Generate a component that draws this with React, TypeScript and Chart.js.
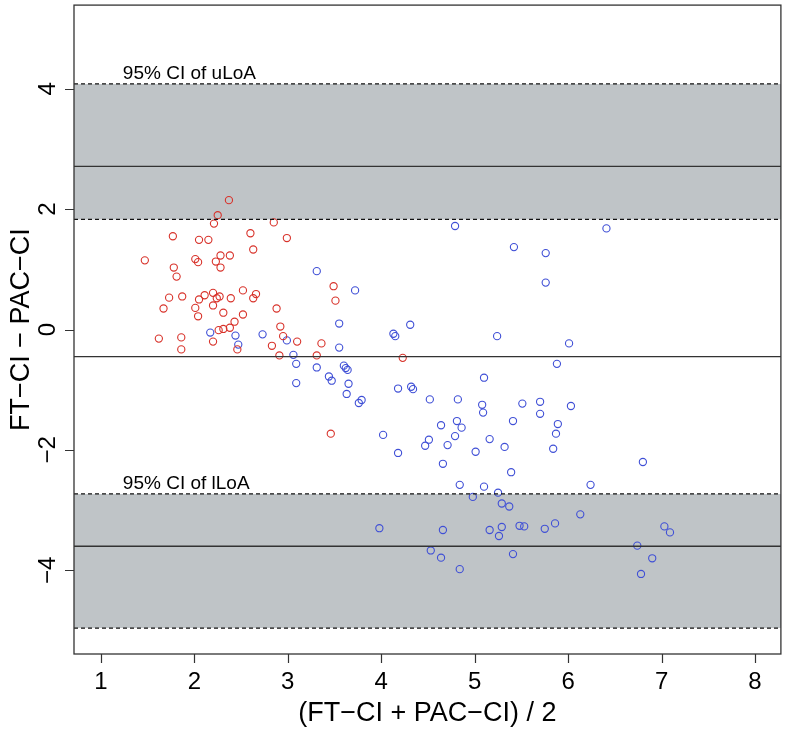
import React, { useEffect, useRef } from 'react';
import { Chart, registerables } from 'chart.js';

Chart.register(...registerables);

// ---- data ----
const redX = [2.37, 2.25, 2.21, 2.85, 1.77, 2.05, 2.15, 2.60, 2.99, 2.63, 1.47, 2.01, 2.04, 2.28, 2.38, 2.23, 2.28, 1.78, 1.81, 3.49, 3.51, 1.73, 1.87, 1.67, 2.05, 2.11, 2.20, 2.24, 2.27, 2.20, 2.01, 2.39, 2.52, 2.63, 2.66, 2.04, 2.31, 2.52, 2.43, 2.38, 2.31, 2.26, 2.88, 2.92, 2.95, 3.10, 3.36, 2.83, 2.91, 3.31, 1.62, 1.86, 2.20, 1.86, 2.46, 4.23, 3.46];
const redY = [2.15, 1.90, 1.76, 1.78, 1.55, 1.49, 1.49, 1.60, 1.52, 1.33, 1.15, 1.17, 1.12, 1.23, 1.23, 1.13, 1.03, 1.03, 0.88, 0.72, 0.48, 0.53, 0.55, 0.35, 0.50, 0.57, 0.61, 0.52, 0.55, 0.40, 0.36, 0.52, 0.65, 0.52, 0.59, 0.22, 0.28, 0.25, 0.13, 0.03, 0.01, -0.01, 0.35, 0.05, -0.11, -0.20, -0.23, -0.27, -0.43, -0.43, -0.15, -0.13, -0.20, -0.33, -0.33, -0.47, -1.73];

const blueX = [3.31, 3.72, 3.55, 2.17, 2.44, 2.47, 2.73, 2.99, 3.06, 3.09, 3.31, 3.55, 3.60, 3.62, 3.64, 3.44, 3.47, 3.09, 3.65, 3.63, 3.79, 3.76, 4.79, 6.41, 5.42, 5.76, 5.76, 4.31, 4.13, 4.15, 5.24, 6.01, 5.88, 5.10, 4.18, 4.32, 4.34, 4.52, 4.82, 5.08, 5.09, 5.51, 5.70, 5.70, 6.03, 5.89, 5.87, 5.84, 4.64, 4.81, 4.86, 5.16, 4.02, 4.51, 4.47, 4.71, 4.79, 5.41, 5.32, 5.01, 4.18, 6.80, 4.66, 5.39, 4.84, 5.10, 6.24, 5.25, 4.98, 5.29, 5.37, 6.13, 5.86, 3.98, 4.66, 5.16, 5.29, 5.26, 5.48, 5.53, 5.75, 7.03, 7.09, 6.74, 4.53, 4.64, 5.41, 6.90, 4.84, 6.78];
const blueY = [0.97, 0.65, 0.10, -0.05, -0.10, -0.25, -0.08, -0.18, -0.42, -0.57, -0.63, -0.30, -0.60, -0.64, -0.67, -0.78, -0.85, -0.89, -0.90, -1.07, -1.17, -1.22, 1.72, 1.68, 1.37, 1.27, 0.78, 0.08, -0.07, -0.11, -0.11, -0.23, -0.57, -0.80, -0.98, -0.95, -0.99, -1.16, -1.16, -1.25, -1.38, -1.23, -1.20, -1.40, -1.27, -1.57, -1.73, -1.98, -1.59, -1.52, -1.63, -1.82, -1.75, -1.83, -1.93, -1.92, -1.77, -1.52, -1.95, -2.03, -2.05, -2.20, -2.23, -2.37, -2.58, -2.61, -2.58, -2.71, -2.78, -2.89, -2.94, -3.07, -3.22, -3.30, -3.33, -3.33, -3.28, -3.43, -3.26, -3.27, -3.31, -3.27, -3.37, -3.59, -3.67, -3.79, -3.73, -3.80, -3.98, -4.06];

const uLoA = [1.83, 2.71, 4.08]; // lower CI, estimate, upper CI
const lLoA = [-4.96, -3.6, -2.73]; // lower CI, estimate, upper CI
const bias = -0.45;

const xTicks = [1, 2, 3, 4, 5, 6, 7, 8];
const xTickLabels = ['1', '2', '3', '4', '5', '6', '7', '8'];
const yTicks = [-4, -2, 0, 2, 4];
const yTickLabels = ['\u22124', '\u22122', '0', '2', '4'];
const xRange = [0.712, 8.277];
const yRange = [-5.39, 5.39];
const xTitle = '(FT\u2212CI + PAC\u2212CI) / 2';
const yTitle = 'FT\u2212CI \u2212 PAC\u2212CI';
const bandLabels = ['95% CI of uLoA', '95% CI of lLoA'];

// ---- styles ----
const FONT = '"Liberation Sans", Arial, Helvetica, sans-serif';
const RED = '#d8322a';
const BLUE = '#3f4fd6';
const BAND = '#bfc4c7';
const LABEL_X = 1.235;

const hLine = (y: number) => [
  { x: xRange[0], y },
  { x: xRange[1], y },
];

const decorPlugin = {
  id: 'decor',
  afterDraw(chart: any) {
    const { ctx, chartArea } = chart;
    const xs = chart.scales.x;
    const ys = chart.scales.y;
    const { left, right, top, bottom } = chartArea;
    ctx.save();
    // frame
    ctx.strokeStyle = '#333';
    ctx.lineWidth = 1.3;
    ctx.setLineDash([]);
    ctx.strokeRect(left, top, right - left, bottom - top);
    // ticks
    ctx.lineWidth = 1.2;
    ctx.beginPath();
    xTicks.forEach((v) => {
      const px = Math.round(xs.getPixelForValue(v)) + 0.5;
      ctx.moveTo(px, bottom);
      ctx.lineTo(px, bottom + 9);
    });
    yTicks.forEach((v) => {
      const py = Math.round(ys.getPixelForValue(v)) + 0.5;
      ctx.moveTo(left, py);
      ctx.lineTo(left - 9, py);
    });
    ctx.stroke();
    // tick labels
    ctx.fillStyle = '#000';
    ctx.font = `24px ${FONT}`;
    ctx.textAlign = 'center';
    ctx.textBaseline = 'alphabetic';
    xTicks.forEach((v, i) => {
      ctx.fillText(xTickLabels[i], xs.getPixelForValue(v), bottom + 35);
    });
    yTicks.forEach((v, i) => {
      ctx.save();
      ctx.translate(left - 19, ys.getPixelForValue(v));
      ctx.rotate(-Math.PI / 2);
      ctx.fillText(yTickLabels[i], 0, 0);
      ctx.restore();
    });
    // axis titles
    ctx.font = `27px ${FONT}`;
    ctx.fillText(xTitle, (left + right) / 2, bottom + 67);
    ctx.save();
    ctx.translate(29, (top + bottom) / 2);
    ctx.rotate(-Math.PI / 2);
    ctx.fillText(yTitle, 0, 0);
    ctx.restore();
    // band labels
    ctx.font = `19px ${FONT}`;
    ctx.textAlign = 'left';
    ctx.fillText(bandLabels[0], xs.getPixelForValue(LABEL_X), ys.getPixelForValue(uLoA[2]) - 5);
    ctx.fillText(bandLabels[1], xs.getPixelForValue(LABEL_X), ys.getPixelForValue(lLoA[2]) - 5);
    ctx.restore();
  },
};

export default function App() {
  const ref = useRef<HTMLCanvasElement | null>(null);
  useEffect(() => {
    document.body.style.margin = '0';
    if (!ref.current) return;
    const dashed = { borderColor: '#111', borderWidth: 1.3, borderDash: [4, 3], pointRadius: 0, showLine: true, type: 'line' as const };
    const solid = { borderColor: '#333', borderWidth: 1.4, pointRadius: 0, showLine: true, type: 'line' as const, fill: false };
    const chart = new Chart(ref.current, {
      type: 'scatter',
      data: {
        datasets: [
          { ...dashed, data: hLine(uLoA[2]), fill: { target: 1 }, backgroundColor: BAND },
          { ...dashed, data: hLine(uLoA[0]), fill: false },
          { ...dashed, data: hLine(lLoA[2]), fill: { target: 3 }, backgroundColor: BAND },
          { ...dashed, data: hLine(lLoA[0]), fill: false },
          { ...solid, data: hLine(uLoA[1]) },
          { ...solid, data: hLine(bias) },
          { ...solid, data: hLine(lLoA[1]) },
          {
            data: redX.map((x, i) => ({ x, y: redY[i] })),
            pointRadius: 3.6,
            pointBorderWidth: 1.1,
            borderColor: RED,
            pointBorderColor: RED,
            backgroundColor: 'rgba(0,0,0,0)',
            pointBackgroundColor: 'rgba(0,0,0,0)',
          },
          {
            data: blueX.map((x, i) => ({ x, y: blueY[i] })),
            pointRadius: 3.6,
            pointBorderWidth: 1.1,
            borderColor: BLUE,
            pointBorderColor: BLUE,
            backgroundColor: 'rgba(0,0,0,0)',
            pointBackgroundColor: 'rgba(0,0,0,0)',
          },
        ] as any,
      },
      options: {
        animation: false,
        responsive: false,
        maintainAspectRatio: false,
        layout: { padding: { left: 0, top: 2, right: 3, bottom: 0 } },
        plugins: {
          legend: { display: false },
          tooltip: { enabled: false },
          filler: { drawTime: 'beforeDatasetsDraw' } as any,
        },
        scales: {
          x: {
            type: 'linear',
            min: xRange[0],
            max: xRange[1],
            grid: { display: false },
            border: { display: false },
            ticks: { display: false },
            afterFit: (s: any) => { s.height = 75; },
          },
          y: {
            type: 'linear',
            min: yRange[0],
            max: yRange[1],
            grid: { display: false },
            border: { display: false },
            ticks: { display: false },
            afterFit: (s: any) => { s.width = 74; },
          },
        },
      },
      plugins: [decorPlugin],
    });
    return () => chart.destroy();
  }, []);
  return (
    <div style={{ width: 786, height: 729 }}>
      <canvas ref={ref} width={786} height={729} style={{ display: 'block', width: 786, height: 729 }} />
    </div>
  );
}
